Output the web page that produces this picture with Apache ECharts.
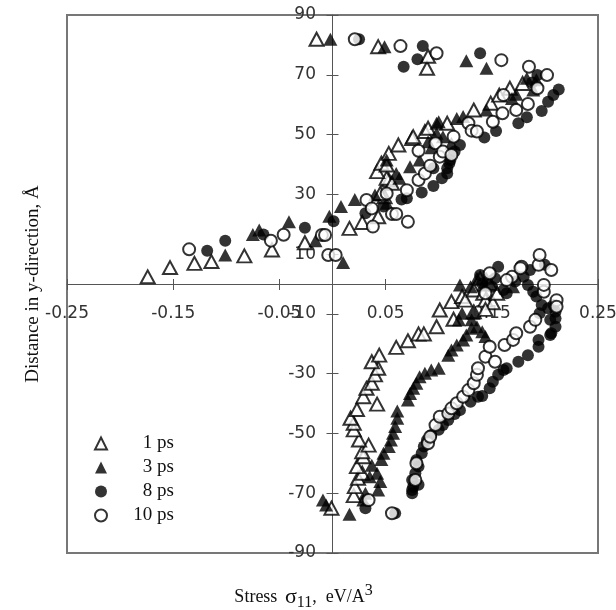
<!DOCTYPE html>
<html>
<head>
<meta charset="utf-8">
<script src="https://cdn.jsdelivr.net/npm/echarts@6/dist/echarts.min.js"></script>
<style>html,body{margin:0;padding:0;background:#fff}#c{width:616px;height:610px}</style>
</head>
<body>
<div id="c"></div>
<script>
// ---- data (x: stress eV/A^3, y: distance in y-direction, Å) ----
const seriesNames = ['1 ps', '3 ps', '8 ps', '10 ps'];
const xTicks = [-0.25, -0.15, -0.05, 0.05, 0.15, 0.25];
const yTicks = [-90, -70, -50, -30, -10, 10, 30, 50, 70, 90];

const ps1 = [
  [-0.174,2.4],[-0.153,5.5],[-0.130,6.9],[-0.114,7.5],[-0.083,9.4],[-0.057,11.4],[-0.026,13.8],[0.016,18.6],[0.028,20.6],[0.043,22.5],
  [0.049,29.2],[0.045,30.3],[0.053,34.8],[0.051,35.4],[0.056,33.7],[0.042,37.6],[0.046,40.4],[0.051,39.8],[0.053,43.7],[0.062,46.5],
  [0.075,48.7],[0.076,49.3],[0.087,51.0],[0.090,52.1],[0.108,53.8],[0.133,58.2],[0.149,60.5],[0.157,63.2],[0.167,65.5],[0.179,67.1],
  [-0.015,81.9],[0.043,79.4],[0.089,72.2],[0.090,76.2],
  [-0.001,-75.0],[0.020,-70.8],[0.021,-67.8],[0.024,-65.0],[0.028,-63.3],[0.023,-61.1],[0.029,-57.8],[0.028,-56.1],[0.034,-53.9],[0.025,-52.2],
  [0.020,-48.8],[0.020,-46.6],[0.017,-44.9],[0.023,-42.0],[0.042,-40.2],[0.029,-37.7],[0.032,-34.9],[0.037,-33.2],[0.040,-30.4],[0.043,-28.2],
  [0.037,-26.0],[0.044,-23.8],[0.060,-21.2],[0.071,-19.0],[0.081,-16.7],[0.086,-16.7],[0.098,-14.3],[0.114,-11.8],[0.133,-9.3],[0.101,-8.7],
  [0.112,-5.9],[0.122,-4.2],[0.125,-5.4],[0.133,-2.0],[0.142,-3.1],[0.144,-5.4],[0.151,-6.3],[0.144,-8.5],[0.155,-3.1],[0.148,0.2],[0.139,1.9]
];
const ps3 = [
  [-0.101,9.7],[-0.075,16.6],[-0.069,18.1],[-0.041,20.8],[-0.016,14.5],[0.010,7.2],[-0.003,22.7],[0.008,25.9],[0.021,28.3],[0.040,29.8],
  [0.051,27.0],[0.051,41.5],[0.060,37.0],[0.063,35.4],[0.073,39.2],[0.082,41.5],[0.090,47.6],[0.093,45.6],[0.098,50.4],[0.098,53.8],
  [0.100,54.3],[0.104,49.3],[0.112,47.1],[0.117,55.4],[0.123,56.0],[0.145,58.2],[0.169,62.1],[0.173,63.5],[0.183,68.8],[0.189,64.9],[0.192,68.3],
  [-0.002,81.9],[0.049,79.4],[0.126,74.7],[0.145,72.2],
  [-0.006,-73.9],[-0.009,-72.3],[0.016,-77.0],[0.029,-72.3],[0.031,-70.0],[0.035,-64.5],[0.037,-60.6],[0.042,-63.3],[0.045,-66.1],[0.043,-68.9],
  [0.046,-58.7],[0.048,-56.6],[0.053,-54.4],[0.055,-52.2],[0.057,-49.9],[0.059,-47.7],[0.061,-44.9],[0.061,-42.5],[0.071,-38.8],[0.073,-36.6],
  [0.076,-34.9],[0.079,-33.2],[0.082,-31.0],[0.087,-29.9],[0.093,-28.8],[0.100,-28.2],[0.109,-23.8],[0.112,-22.1],[0.117,-20.4],[0.123,-18.7],
  [0.126,-17.1],[0.131,-14.8],[0.136,-14.3],[0.141,-16.0],[0.144,-17.6],[0.131,-12.0],[0.122,-9.8],[0.119,-12.0],[0.133,-9.8],[0.120,-0.3],
  [0.130,-0.9],[0.136,1.9],[0.142,-0.3],[0.145,1.9],[0.170,-0.9]
];
const ps8 = [
  [-0.118,11.1],[-0.101,14.5],[-0.065,16.6],[-0.026,18.8],[0.001,21.0],[0.031,23.7],[0.048,25.9],[0.065,28.3],[0.070,28.7],[0.084,30.6],
  [0.095,32.8],[0.103,35.4],[0.095,38.7],[0.108,37.0],[0.108,38.7],[0.110,40.4],[0.111,41.5],[0.115,44.3],[0.120,46.5],[0.143,49.0],
  [0.154,51.2],[0.175,53.8],[0.183,55.8],[0.197,57.9],[0.203,61.0],[0.208,63.2],[0.213,65.1],[0.188,67.4],[0.193,69.9],
  [0.025,81.9],[0.085,79.6],[0.067,72.7],[0.080,75.2],[0.139,77.2],
  [0.031,-75.0],[0.059,-76.7],[0.075,-70.0],[0.075,-68.9],[0.076,-67.8],[0.081,-67.2],[0.075,-65.6],[0.078,-63.3],[0.081,-61.1],[0.079,-58.9],
  [0.084,-56.6],[0.086,-54.4],[0.089,-52.2],[0.093,-50.5],[0.100,-48.8],[0.104,-47.2],[0.109,-45.5],[0.115,-43.5],[0.120,-42.2],[0.130,-39.4],
  [0.137,-37.7],[0.141,-37.5],[0.148,-34.9],[0.151,-32.7],[0.156,-30.4],[0.161,-28.8],[0.164,-28.2],[0.175,-26.0],[0.184,-23.8],[0.194,-21.0],
  [0.194,-18.7],[0.205,-17.1],[0.206,-16.5],[0.210,-14.3],[0.205,-12.0],[0.210,-11.5],[0.195,-9.8],[0.210,-9.3],[0.208,-7.0],[0.203,-8.1],
  [0.197,-7.0],[0.192,-4.2],[0.189,-2.6],[0.184,-0.3],[0.180,2.4],[0.186,4.7],[0.200,6.4],[0.156,5.8],[0.153,1.9],[0.161,-2.0],
  [0.164,-3.1],[0.139,3.0],[0.141,0.2],[0.150,-0.9],[0.172,0.8]
];
const ps10 = [
  [-0.135,11.6],[-0.058,14.5],[-0.046,16.5],[-0.010,16.4],[-0.007,16.4],[-0.004,9.7],[0.003,9.7],[0.032,28.1],[0.037,25.3],[0.038,19.2],
  [0.051,30.3],[0.056,23.4],[0.060,23.4],[0.071,20.8],[0.070,31.4],[0.081,34.8],[0.087,37.0],[0.092,39.6],[0.081,44.6],[0.097,47.1],
  [0.101,42.6],[0.104,44.3],[0.112,43.2],[0.114,49.3],[0.128,53.8],[0.131,51.3],[0.136,51.0],[0.151,54.3],[0.160,57.1],[0.161,63.2],
  [0.173,58.2],[0.184,60.2],[0.185,72.7],[0.193,65.5],[0.202,69.9],
  [0.021,81.9],[0.064,79.6],[0.098,77.2],[0.159,74.9],
  [0.034,-72.3],[0.056,-76.7],[0.078,-65.6],[0.079,-60.0],[0.090,-53.3],[0.092,-51.1],[0.097,-47.2],[0.101,-44.4],[0.109,-43.3],[0.112,-41.6],
  [0.117,-39.9],[0.123,-37.7],[0.128,-35.5],[0.133,-33.2],[0.136,-30.4],[0.137,-28.2],[0.144,-24.3],[0.148,-21.0],[0.153,-26.0],[0.162,-20.4],
  [0.170,-18.7],[0.173,-16.5],[0.186,-14.3],[0.191,-12.0],[0.211,-5.4],[0.211,-7.6],[0.199,-2.6],[0.199,-0.3],[0.206,4.7],[0.194,6.4],
  [0.178,5.8],[0.169,2.4],[0.148,3.6],[0.144,-3.1],[0.195,9.7],[0.164,1.3],[0.177,5.3]
];

const chart = echarts.init(document.getElementById('c'), null, {renderer: 'canvas'});
const sansLabel = {fontFamily: 'DejaVu Sans', fontSize: 17, color: '#333'};
const serif = 'Liberation Serif';
const axisLineStyle = {color: '#555', width: 1};
const xLabelFmt = v => xTicks.some(t => Math.abs(t - v) < 1e-9) ? v.toFixed(2) : '';
const yLabelFmt = v => yTicks.some(t => Math.abs(t - v) < 1e-9) ? String(v) : '';

const option = {
  animation: false,
  backgroundColor: '#fff',
  grid: {left: 67, right: 18, top: 15, bottom: 57, outerBoundsMode: 'none', containLabel: false,
         show: true, borderColor: '#777', borderWidth: 2, backgroundColor: 'transparent'},
  legend: {
    orient: 'vertical', left: 89, top: 429, itemGap: 5, itemWidth: 12, itemHeight: 12,
    data: seriesNames,
    formatter: n => '{t|' + n + '}',
    textStyle: {rich: {t: {width: 62, align: 'right', fontFamily: serif, fontSize: 19, color: '#111', lineHeight: 22}}}
  },
  xAxis: [
    {type: 'value', min: -0.25, max: 0.25, interval: 0.1, position: 'bottom',
     axisLine: {onZero: true, onZeroAxisIndex: 0, lineStyle: axisLineStyle},
     axisTick: {show: true, inside: false, length: 6, lineStyle: axisLineStyle},
     axisLabel: Object.assign({margin: -248, formatter: xLabelFmt, showMinLabel: true, showMaxLabel: true}, sansLabel),
     splitLine: {show: false}},
    {type: 'value', min: -0.25, max: 0.25, interval: 0.1, position: 'bottom',
     axisLine: {onZero: true, onZeroAxisIndex: 0, show: false},
     axisTick: {show: true, inside: true, length: 5, lineStyle: axisLineStyle},
     axisLabel: {show: false}, splitLine: {show: false}},
    {type: 'value', min: -0.25, max: 0.25, position: 'bottom',
     axisLine: {onZero: false, show: false}, axisTick: {show: false}, axisLabel: {show: false}, splitLine: {show: false},
     name: 'Stress {g|σ}{sub|11}{n|,  eV/A}{sup|3}', nameLocation: 'middle', nameGap: 30,
     nameTextStyle: {fontFamily: serif, fontSize: 18, color: '#111', lineHeight: 28, padding: [0, 58, 0, 0],
       rich: {
         g: {fontFamily: serif, fontSize: 22, color: '#111', verticalAlign: 'middle', lineHeight: 28, padding: [0, 0, 0, 3]},
         sub: {fontFamily: serif, fontSize: 16, color: '#111', verticalAlign: 'bottom', lineHeight: 28},
         n: {fontFamily: serif, fontSize: 18, color: '#111', verticalAlign: 'middle', lineHeight: 28},
         sup: {fontFamily: serif, fontSize: 16, color: '#111', verticalAlign: 'top', lineHeight: 28}
       }}}
  ],
  yAxis: [
    {type: 'value', min: -90, max: 90, interval: 20, position: 'left',
     axisLine: {onZero: true, onZeroAxisIndex: 0, lineStyle: axisLineStyle},
     axisTick: {show: true, inside: false, length: 6, lineStyle: axisLineStyle},
     axisLabel: Object.assign({margin: -249, formatter: yLabelFmt, showMinLabel: true, showMaxLabel: true}, sansLabel),
     splitLine: {show: false}},
    {type: 'value', min: -90, max: 90, interval: 20, position: 'left',
     axisLine: {onZero: true, onZeroAxisIndex: 0, show: false},
     axisTick: {show: true, inside: true, length: 6, lineStyle: axisLineStyle},
     axisLabel: {show: false}, splitLine: {show: false}},
    {type: 'value', min: -90, max: 90, position: 'left',
     axisLine: {onZero: false, show: false}, axisTick: {show: false}, axisLabel: {show: false}, splitLine: {show: false},
     name: 'Distance in y-direction, Å', nameLocation: 'middle', nameGap: 24, nameRotate: 90,
     nameTextStyle: {fontFamily: serif, fontSize: 19, color: '#111'}}
  ],
  series: [
    {name: '1 ps', type: 'scatter', data: ps1, symbol: 'triangle', symbolSize: [14, 13],
     itemStyle: {color: '#fff', borderColor: '#000', borderWidth: 2}, z: 3},
    {name: '3 ps', type: 'scatter', data: ps3, symbol: 'triangle', symbolSize: [14, 13],
     itemStyle: {color: '#000', borderColor: '#000', borderWidth: 0}, z: 3},
    {name: '8 ps', type: 'scatter', data: ps8, symbol: 'circle', symbolSize: 12,
     itemStyle: {color: '#000', borderColor: '#000', borderWidth: 0}, z: 3},
    {name: '10 ps', type: 'scatter', data: ps10, symbol: 'circle', symbolSize: 12,
     itemStyle: {color: '#fff', borderColor: '#000', borderWidth: 2}, z: 3}
  ]
};
chart.setOption(option);
</script>
</body>
</html>
